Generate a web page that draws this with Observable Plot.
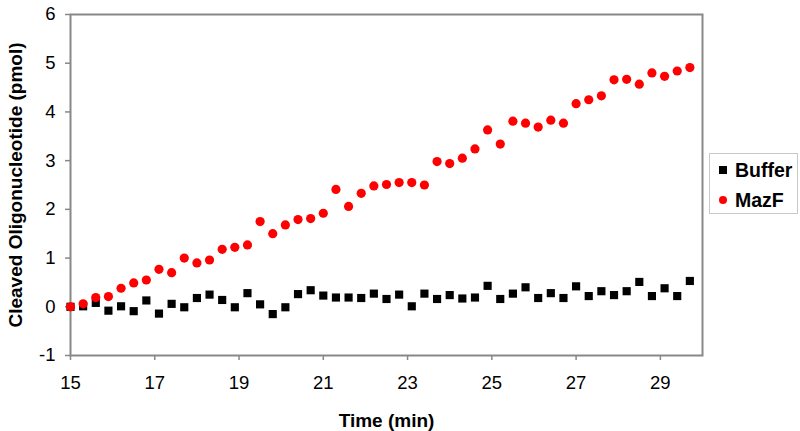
<!DOCTYPE html>
<html>
<head>
<meta charset="utf-8">
<script src="https://cdn.jsdelivr.net/npm/d3@7"></script>
<script src="https://cdn.jsdelivr.net/npm/@observablehq/plot@0.6"></script>
<style>
  body { margin: 0; background: #fff; }
  #wrap { position: relative; width: 800px; height: 431px; font-family: "Liberation Sans", Arial, sans-serif; }
  g[aria-label="y-axis label"] text, g[aria-label="x-axis label"] text { font-weight: bold; font-size: 19px; }
  #legend { position: absolute; left: 709px; top: 153px; width: 89px; height: 61px; border: 1px solid #c8c8c8; background: #fff; box-sizing: border-box; font-weight: bold; font-size: 19.5px; color: #000; }
  #legend .row { position: absolute; left: 9px; display: flex; align-items: center; line-height: 22px; }
  #legend .sw { width: 8px; height: 8px; margin-right: 8px; }
</style>
</head>
<body>
<div id="wrap"></div>
<script>
const times = [15.0,15.3,15.6,15.9,16.2,16.5,16.8,17.1,17.4,17.7,18.0,18.3,18.6,18.9,19.2,19.5,19.8,20.1,20.4,20.7,
  21.0,21.3,21.6,21.9,22.2,22.5,22.8,23.1,23.4,23.7,24.0,24.3,24.6,24.9,25.2,25.5,25.8,26.1,26.4,26.7,
  27.0,27.3,27.6,27.9,28.2,28.5,28.8,29.1,29.4,29.7];
const buffer = [0.00,0.01,0.08,-0.08,0.01,-0.09,0.13,-0.14,0.06,-0.01,0.18,0.25,0.14,-0.01,0.28,0.05,-0.15,-0.01,0.26,0.34,
  0.23,0.19,0.19,0.18,0.27,0.16,0.25,0.01,0.27,0.16,0.24,0.17,0.19,0.43,0.16,0.27,0.40,0.18,0.28,0.18,
  0.42,0.22,0.32,0.24,0.32,0.51,0.22,0.38,0.22,0.53];
const mazf = [0.00,0.06,0.19,0.21,0.38,0.49,0.55,0.77,0.70,1.00,0.90,0.96,1.18,1.22,1.27,1.75,1.50,1.68,1.79,1.81,
  1.92,2.41,2.06,2.33,2.48,2.51,2.55,2.55,2.50,2.98,2.94,3.05,3.24,3.63,3.34,3.81,3.77,3.69,3.83,3.77,
  4.17,4.25,4.33,4.66,4.67,4.57,4.80,4.73,4.84,4.91];
const xTicks = [15,17,19,21,23,25,27,29];
const yTicks = [-1,0,1,2,3,4,5,6];
const seriesNames = ["Buffer", "MazF"];
const seriesColors = ["#000000", "#ff0000"];
const seriesSymbols = ["square", "circle"];

const bufferData = times.map((t, i) => ({t, v: buffer[i]}));
const mazfData = times.map((t, i) => ({t, v: mazf[i]}));

const chart = Plot.plot({
  width: 800,
  height: 431,
  marginLeft: 70,
  marginRight: 98,
  marginTop: 14,
  marginBottom: 76,
  style: {fontSize: "18.5px", fontFamily: "'Liberation Sans', Arial, sans-serif", background: "#fff", color: "#000"},
  x: {domain: [15, 30]},
  y: {domain: [-1, 6]},
  marks: [
    Plot.axisX({ticks: xTicks, tickFormat: d => String(d), tickSize: 5, tickPadding: 15, stroke: "#888", strokeWidth: 1.5,
      label: "Time (min)", labelAnchor: "center", labelArrow: "none", labelOffset: 71}),
    Plot.axisY({ticks: yTicks, tickFormat: d => String(d), tickSize: 5, tickPadding: 10, stroke: "#888", strokeWidth: 1.5,
      label: "Cleaved Oligonucleotide (pmol)", labelAnchor: "center", labelArrow: "none", labelOffset: 62}),
    Plot.frame({stroke: "#888", strokeWidth: 2}),
    Plot.dot(bufferData, {x: "t", y: "v", symbol: seriesSymbols[0], r: 4.6, fill: seriesColors[0], stroke: "none"}),
    Plot.dot(mazfData, {x: "t", y: "v", symbol: seriesSymbols[1], r: 4.6, fill: seriesColors[1], stroke: "none"})
  ]
});

const wrap = document.getElementById("wrap");
wrap.appendChild(chart);

const legend = document.createElement("div");
legend.id = "legend";
seriesNames.forEach((name, i) => {
  const row = document.createElement("div");
  row.className = "row";
  row.style.top = (i === 0 ? 5 : 35) + "px";
  const sw = document.createElement("span");
  sw.className = "sw";
  sw.style.background = seriesColors[i];
  if (seriesSymbols[i] === "circle") sw.style.borderRadius = "50%";
  const tx = document.createElement("span");
  tx.textContent = name;
  row.appendChild(sw);
  row.appendChild(tx);
  legend.appendChild(row);
});
wrap.appendChild(legend);
</script>
</body>
</html>
